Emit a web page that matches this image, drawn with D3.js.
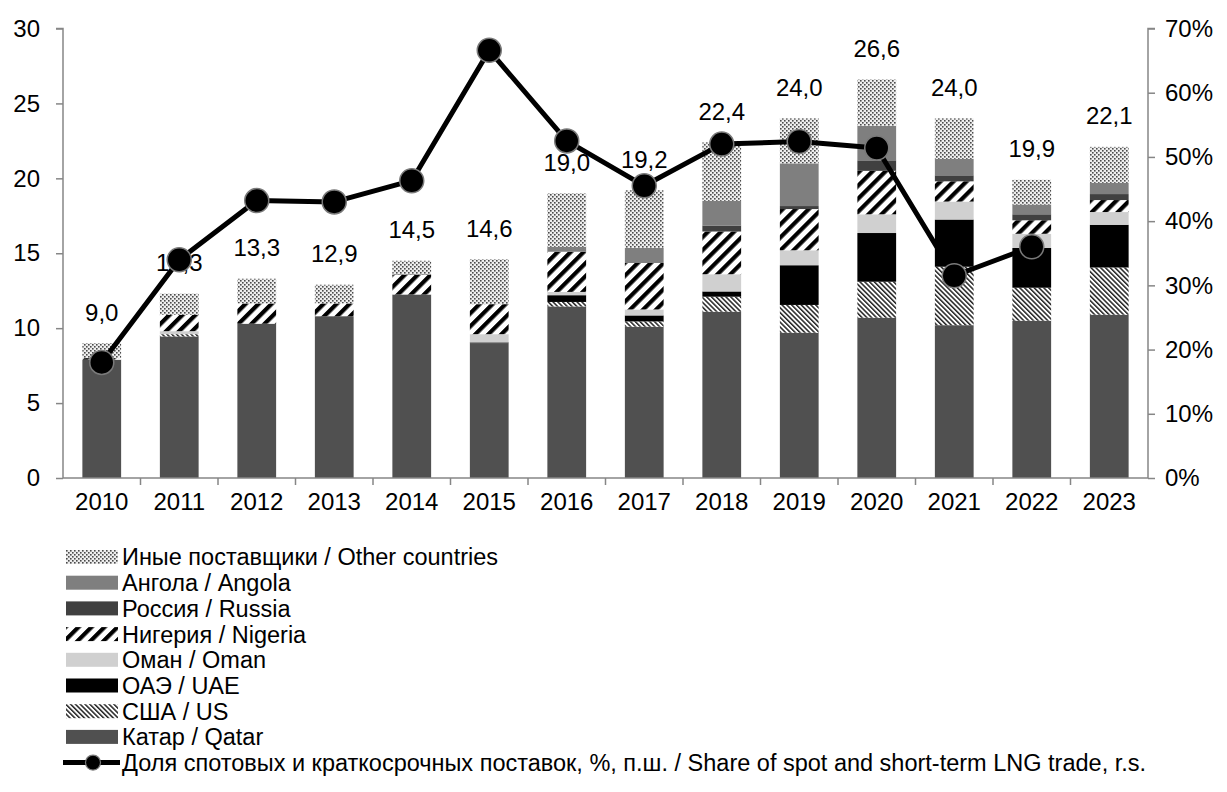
<!DOCTYPE html>
<html><head><meta charset="utf-8">
<script src="https://cdn.jsdelivr.net/npm/d3@7/dist/d3.min.js"></script>
<style>body{margin:0;background:#fff}svg{display:block;font-family:"Liberation Sans",Arial,sans-serif}</style>
</head><body><svg id="c" width="1227" height="792"></svg>
<script>
const years = [2010,2011,2012,2013,2014,2015,2016,2017,2018,2019,2020,2021,2022,2023];
const qatar   = [7.9, 9.45,10.3,10.8,12.25,9.0, 11.45,10.1, 11.1, 9.7, 10.7,10.2, 10.5,10.9];
const us      = [0,   0.15,0,   0,   0,    0,   0.3,  0.35, 1.0,  1.85,2.4, 3.9,  2.2, 3.15];
const uae     = [0,   0,   0,   0,   0,    0.05,0.45, 0.4,  0.35, 2.65,3.25,3.15, 2.65,2.85];
const oman    = [0,   0.2, 0,   0,   0,    0.55,0.22, 0.4,  1.15, 1.0, 1.25,1.2,  0.95,0.85];
const nigeria = [0.1, 1.1, 1.35,0.85,1.3,  2.0, 2.68, 3.1,  2.85, 2.75,2.9, 1.35, 0.9, 0.8];
const russia  = [0,   0,   0,   0,   0,    0,   0,    0,    0.4,  0.2, 0.7, 0.4,  0.4, 0.4];
const angola  = [0,   0,   0,   0,   0.05, 0,   0.33, 1.0,  1.65, 2.85,2.3, 1.1,  0.65,0.75];
const other   = [1.0, 1.4, 1.65,1.25,0.9,  3.0, 3.57, 3.85, 3.9,  3.0, 3.1, 2.7,  1.65,2.4];
const totalLabels = ["9,0","12,3","13,3","12,9","14,5","14,6","19,0","19,2","22,4","24,0","26,6","24,0","19,9","22,1"];
const share = [18.0,34.0,43.2,43.0,46.3,66.6,52.5,45.5,52.0,52.4,51.4,31.5,36.0,null];
const leftTicks = [0,5,10,15,20,25,30];
const rightTicks = [0,10,20,30,40,50,60,70];

const seriesDefs = [
  {key:"qatar", vals:qatar, name:"Катар / Qatar", fill:"#505050"},
  {key:"us", vals:us, name:"США / US", fill:"url(#pUS)"},
  {key:"uae", vals:uae, name:"ОАЭ / UAE", fill:"#000000"},
  {key:"oman", vals:oman, name:"Оман / Oman", fill:"#d0d0d0"},
  {key:"nigeria", vals:nigeria, name:"Нигерия / Nigeria", fill:"url(#pNG)"},
  {key:"russia", vals:russia, name:"Россия / Russia", fill:"#404040"},
  {key:"angola", vals:angola, name:"Ангола / Angola", fill:"#7f7f7f"},
  {key:"other", vals:other, name:"Иные поставщики / Other countries", fill:"url(#pOT)"}
];

const svg = d3.select("#c");
const defs = svg.append("defs");
const pOT = defs.append("pattern").attr("id","pOT").attr("patternUnits","userSpaceOnUse").attr("width",4).attr("height",4);
pOT.append("rect").attr("width",4).attr("height",4).attr("fill","#eeeeee");
pOT.append("rect").attr("x",0).attr("y",0).attr("width",1.6).attr("height",1.6).attr("fill","#4a4a4a");
pOT.append("rect").attr("x",2).attr("y",2).attr("width",1.6).attr("height",1.6).attr("fill","#4a4a4a");
const pNG = defs.append("pattern").attr("id","pNG").attr("patternUnits","userSpaceOnUse").attr("width",9.2).attr("height",9.2).attr("patternTransform","rotate(45)");
pNG.append("rect").attr("width",9.2).attr("height",9.2).attr("fill","#fff");
pNG.append("rect").attr("width",4.2).attr("height",9.2).attr("fill","#000");
const pUS = defs.append("pattern").attr("id","pUS").attr("patternUnits","userSpaceOnUse").attr("width",3.4).attr("height",3.4).attr("patternTransform","rotate(-45)");
pUS.append("rect").attr("width",3.4).attr("height",3.4).attr("fill","#fff");
pUS.append("rect").attr("width",1.5).attr("height",3.4).attr("fill","#222");

const L = 63, R = 1148, T = 28.5, B = 478;
const FS = "24px";
const x = d3.scaleBand().domain(years).range([L,R]).paddingInner(0.5).paddingOuter(0.25);
const xb = d3.scaleBand().domain(years).range([L,R]);
const y = d3.scaleLinear().domain([0,30]).range([B,T]);
const y2 = d3.scaleLinear().domain([0,70]).range([B,T]);

const table = years.map((yr,i)=>{const o={year:yr}; seriesDefs.forEach(s=>o[s.key]=s.vals[i]); return o;});
const stack = d3.stack().keys(seriesDefs.map(s=>s.key))(table);

const gBars = svg.append("g");
stack.forEach((layer,li)=>{
  gBars.append("g").attr("fill",seriesDefs[li].fill)
    .selectAll("rect").data(layer.filter(d=>d[1]-d[0]>0)).join("rect")
    .attr("x",d=>x(d.data.year)).attr("width",x.bandwidth())
    .attr("y",d=>y(d[1])).attr("height",d=>y(d[0])-y(d[1]));
});

const axisColor = "#868686";
const gL = svg.append("g").attr("transform",`translate(${L},0)`).call(d3.axisLeft(y).tickValues(leftTicks).tickSize(7).tickPadding(16));
const gR = svg.append("g").attr("transform",`translate(${R},0)`).call(d3.axisRight(y2).tickValues(rightTicks).tickSize(7).tickPadding(10).tickFormat(d=>d+"%"));
const gB = svg.append("g").attr("transform",`translate(0,${B})`).call(d3.axisBottom(xb).tickSize(0).tickPadding(22));
svg.append("g").selectAll("line").data(years.slice(1)).join("line")
  .attr("x1",d=>xb(d)).attr("x2",d=>xb(d)).attr("y1",B).attr("y2",B+7).attr("stroke",axisColor).attr("stroke-width",1.5);
[gL,gR,gB].forEach(g=>{
  g.select(".domain").attr("stroke",axisColor).attr("stroke-width",1.5);
  g.selectAll(".tick line").attr("stroke",axisColor).attr("stroke-width",1.5);
  g.selectAll("text").attr("fill","#000").style("font-size",FS).style("font-family","'Liberation Sans',Arial,sans-serif");
});
gL.select(".domain").attr("d",`M-7,${T}H0V${B}`);
gR.select(".domain").attr("d",`M7,${T}H0V${B}`);
gB.select(".domain").attr("d",`M${L},0H${R}`);
gB.selectAll(".tick text").attr("dy","0.4em");

svg.append("g").selectAll("text").data(table).join("text")
  .attr("x",d=>xb(d.year)+xb.bandwidth()/2)
  .attr("y",(d,i)=>y(d3.sum(seriesDefs,s=>s.vals[i]))-31)
  .attr("text-anchor","middle").attr("dy","0.35em").style("font-size",FS)
  .text((d,i)=>totalLabels[i]);

const pts = years.map((yr,i)=>({year:yr,v:share[i]})).filter(d=>d.v!=null);
svg.append("path").datum(pts).attr("fill","none").attr("stroke","#000").attr("stroke-width",5).attr("stroke-linejoin","round")
  .attr("d",d3.line().x(d=>xb(d.year)+xb.bandwidth()/2).y(d=>y2(d.v)));
svg.append("g").selectAll("circle").data(pts).join("circle")
  .attr("cx",d=>xb(d.year)+xb.bandwidth()/2).attr("cy",d=>y2(d.v)).attr("r",12)
  .attr("fill","#000").attr("stroke","#7a7a7a").attr("stroke-width",1.5);

const legendOrder = seriesDefs.slice().reverse();
const lg = svg.append("g");
const ly0 = 557, ldy = 25.7, LFS = "23.5px";
legendOrder.forEach((s,i)=>{
  const cy = ly0 + i*ldy;
  lg.append("rect").attr("x",66).attr("y",cy-7).attr("width",52).attr("height",14).attr("fill",s.fill);
  lg.append("text").attr("x",122).attr("y",cy).attr("dy","0.36em").style("font-size",LFS).text(s.name);
});
const lcy = ly0 + 8*ldy;
lg.append("line").attr("x1",63).attr("x2",120).attr("y1",lcy).attr("y2",lcy).attr("stroke","#000").attr("stroke-width",5);
lg.append("circle").attr("cx",93).attr("cy",lcy).attr("r",7.5).attr("fill","#000").attr("stroke","#7a7a7a").attr("stroke-width",1.2);
lg.append("text").attr("x",122).attr("y",lcy).attr("dy","0.36em").style("font-size",LFS)
  .text("Доля спотовых и краткосрочных поставок, %, п.ш. / Share of spot and short-term LNG trade, r.s.");
</script></body></html>
